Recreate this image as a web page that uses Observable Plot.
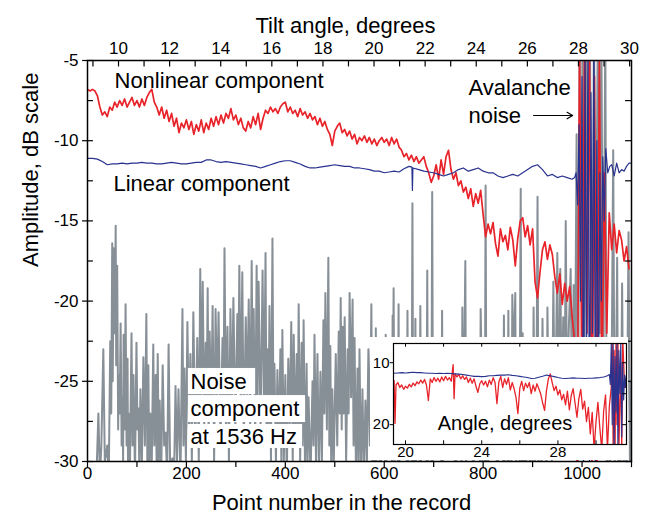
<!DOCTYPE html>
<html><head><meta charset="utf-8">
<script src="https://cdn.jsdelivr.net/npm/d3@7"></script>
<script src="https://cdn.jsdelivr.net/npm/@observablehq/plot@0.6"></script>
<style>
body{margin:0;background:#fff}
#wrap{position:relative;width:659px;height:523px;overflow:hidden}
#inset{position:absolute;left:370px;top:337px}
</style></head>
<body><div id="wrap"><div id="main"></div><div id="inset"></div></div>
<script>
// ---------- data ----------
const nonlinearStep = 5; // point spacing of nonlinearDb
const nonlinearDb = [
-6.8,-6.9,-6.8,-6.9,-7.2,-7.9,-8.4,-8.2,-8.5,-7.9,-8.1,-7.6,-7.9,-7.5,-7.8,-7.4,-7.9,-7.6,-7.3,-7.8,
-7.5,-7.9,-7.4,-7.8,-7.3,-7.0,-6.8,-7.6,-7.9,-8.4,-7.9,-8.6,-8.1,-8.8,-8.3,-9.1,-8.6,-9.5,-8.9,-9.2,
-8.7,-9.3,-8.8,-9.6,-9.0,-9.4,-8.7,-9.5,-8.9,-9.3,-8.6,-9.1,-8.5,-9.0,-8.4,-8.9,-8.3,-8.6,-8.0,-8.7,
-8.4,-9.0,-8.6,-9.2,-9.4,-8.8,-9.2,-8.5,-9.0,-8.3,-9.3,-8.6,-8.1,-8.3,-7.9,-8.2,-8.0,-8.3,-7.9,-7.7,
-7.6,-8.2,-7.9,-8.3,-8.1,-8.5,-8.0,-8.4,-8.2,-8.6,-8.3,-8.7,-8.5,-9.0,-8.6,-9.1,-8.8,-9.3,-9.6,-10.3,
-9.4,-9.1,-8.9,-9.5,-9.3,-9.7,-9.4,-9.9,-9.6,-10.2,-9.8,-10.0,-9.7,-10.1,-9.8,-10.2,-9.9,-10.3,-10.0,-9.8,
-10.1,-9.9,-10.3,-9.8,-10.2,-9.9,-10.4,-10.6,-11.0,-10.8,-11.2,-10.9,-11.3,-11.0,-11.4,-11.2,-11.0,-11.6,-12.0,-12.6,
-12.2,-11.5,-12.4,-11.2,-12.1,-11.0,-10.6,-11.8,-12.4,-12.0,-12.8,-12.5,-13.2,-12.9,-13.6,-13.0,-14.1,-13.3,-13.9,-13.1,
-14.6,-16.0,-15.2,-15.8,-15.1,-16.4,-17.2,-15.5,-16.3,-15.9,-16.8,-15.4,-16.2,-17.8,-16.1,-15.0,-14.8,-16.0,-15.3,-16.5,
-15.5,-18.8,-19.8,-18.2,-16.8,-16.3,-17.4,-16.5,-17.1,-18.5,-19.5,-18.3,-20.2,-18.9,-20.0,-19.1,-21.0,-22.5,-31,-4,
-28,-3,-22,-4,-31,-6,-31,-5,-26,-12,-22,-14.5,-16.8,-15.2,-17.0,-15.6,-16.2,-17.5,-16.6,-18.0
];
const linear = [
[0,-11.1],[10,-11.1],[20,-11.15],[30,-11.3],[40,-11.5],[50,-11.45],[60,-11.45],[70,-11.4],[80,-11.45],[90,-11.4],
[100,-11.4],[110,-11.35],[120,-11.4],[130,-11.4],[140,-11.45],[150,-11.45],[160,-11.4],[170,-11.35],[180,-11.4],[190,-11.45],
[200,-11.45],[210,-11.4],[220,-11.35],[230,-11.35],[240,-11.2],[250,-11.2],[260,-11.3],[270,-11.35],[280,-11.3],[290,-11.35],
[300,-11.4],[310,-11.45],[320,-11.5],[330,-11.55],[340,-11.6],[350,-11.7],[360,-11.6],[370,-11.5],[380,-11.4],[390,-11.3],
[400,-11.25],[410,-11.25],[420,-11.35],[430,-11.45],[440,-11.6],[450,-11.7],[460,-11.7],[470,-11.65],[480,-11.6],[490,-11.55],
[500,-11.5],[510,-11.55],[520,-11.6],[530,-11.6],[540,-11.7],[550,-11.7],[560,-11.75],[570,-11.8],[580,-11.9],[590,-11.9],
[600,-12.0],[610,-11.95],[620,-11.9],[630,-11.95],[640,-11.75],[650,-11.6],[656,-11.65],[657,-13.1],[658,-11.7],[670,-11.8],[680,-11.9],[690,-11.95],
[700,-12.0],[710,-12.1],[720,-12.2],[730,-12.1],[740,-12.0],[750,-11.8],[760,-11.7],[770,-11.9],[780,-11.8],[790,-11.7],
[800,-11.9],[810,-12.0],[820,-12.0],[830,-12.2],[840,-12.3],[850,-12.2],[860,-12.1],[870,-12.2],[880,-12.0],[890,-11.8],
[900,-11.6],[910,-11.5],[920,-11.8],[930,-12.2],[940,-12.1],[950,-12.3],[960,-12.2],[970,-12.3],[980,-12.4],[985,-12.3],
[988,-12.0],[991,-14],[994,-9],[997,-20],[1000,-6],[1003,-31],[1006,-4],[1009,-25],[1012,-3],[1015,-31],[1018,-7],[1021,-22],
[1024,-3],[1027,-31],[1030,-10],[1033,-28],[1036,-12],[1039,-20],[1042,-11],[1045,-15],[1048,-10.5],[1052,-12.0],[1056,-11.6],
[1060,-11.5],[1065,-12.2],[1070,-11.4],[1075,-12.0],[1080,-11.8],[1085,-11.9],[1090,-11.6],[1095,-11.4],[1100,-11.4]
];
const noise = [
[0,-32],[10,-32],[18,-31],[22,-27],[25,-31],[28,-29],[32,-23],[35,-30],[38,-29.5],[40,-29],[43,-31],[46,-22.5],[48,-27],[50,-16.4],[51,-25],[53,-16.7],[55,-22],[57,-15.3],[58,-24],[60,-17.8],
[62,-28],[63,-24.6],[65,-27],[67,-21.4],[69,-29],[71,-26],[72,-30],[73,-22.1],[75,-28],[77,-20.2],[79,-29],[81,-23.6],[82,-31],[83,-27],[86,-30],[89,-22],[91,-29],[93,-24.6],[96,-31],[99,-22.6],
[101,-28],[103,-26.7],[105,-31],[107,-25.5],[110,-30],[113,-23.5],[116,-29],[119,-20.8],[121,-30],[123,-24],[125,-31],[127,-27],[130,-30],[133,-22.7],[135,-29],[138,-24.6],[140,-31],[142,-23.3],[144,-30],[146,-26.2],
[149,-31],[152,-24],[155,-29],[158,-28.2],[161,-31],[164,-22.7],[167,-30],[172,-29.8],[175,-31],[178,-25.3],[181,-30],[184,-25.5],[188,-31],[192,-20.5],[194,-29],[196,-24.2],[199,-30],[202,-21.3],[205,-28],[208,-23.3],
[211,-30],[214,-20.7],[218,-29],[222,-22.3],[225,-30],[228,-18],[230,-27],[233,-18.8],[236,-28],[239,-22.6],[241,-26],[243,-19.2],[245,-29],[247,-21.9],[250,-27],[253,-20.3],[256,-30],[259,-20.5],[262,-26],[265,-20.7],
[269,-29],[273,-22.3],[275,-27],[277,-16.7],[280,-28],[283,-21.6],[286,-30],[289,-20.5],[292,-27],[295,-19.8],[299,-28],[303,-20.8],[305,-25],[307,-17.8],[310,-27],[313,-18.2],[316,-29],[320,-21],[323,-26],[326,-19.9],
[329,-28],[332,-17.5],[334,-25],[336,-20.5],[339,-29],[342,-17.8],[344,-26],[346,-18.8],[350,-28],[354,-18.1],[357,-27],[360,-17],[362,-29],[364,-23],[366,-28],[368,-20.3],[371,-30],[374,-16.1],[376,-27],[378,-23.9],
[381,-30],[384,-24.3],[387,-29],[390,-23],[392,-30],[394,-21.8],[397,-30],[400,-24.6],[403,-31],[406,-23.6],[409,-28],[412,-21.3],[415,-30],[417,-22.1],[420,-29],[423,-23.3],[425,-28],[427,-20.2],[430,-30],[433,-22.6],
[435,-29],[437,-21.2],[440,-31],[443,-23.9],[445,-30],[447,-26],[451,-31],[455,-25],[457,-29],[459,-22.1],[462,-30],[465,-23.3],[468,-31],[471,-24.4],[474,-30],[477,-21.2],[479,-27],[481,-19.5],[484,-28],[487,-17.3],
[489,-29],[491,-22.8],[493,-31],[495,-25.5],[498,-30],[502,-23.3],[505,-29],[508,-21.9],[510,-27],[512,-19.8],[514,-28],[516,-21.6],[518,-27],[520,-21],[523,-30],[526,-23],[528,-27],[530,-19.5],[533,-26],[536,-19.9],
[538,-29],[540,-22.3],[543,-31],[546,-24.2],[548,-30],[550,-23],[553,-31],[556,-25.5],[559,-31],[562,-26.2],[565,-30],[568,-23],[571,-29],[574,-20.2],[576,-31],[578,-27.2],[580,-33],
[582,-33],[583,-21.7],[585,-33],[590,-33],[592,-22.3],[594,-33],[601,-33],[603,-22.1],[605,-33],[615,-33],[617,-20.9],[618,-24],[619,-19.2],[621,-33],[627,-33],[629,-20.2],[631,-33],
[645,-33],[647,-20.6],[649,-33],[655,-33],[657,-13.9],[659,-33],[661,-33],[663,-21.1],[665,-33],[671,-33],[673,-20.3],[675,-33],[685,-33],[687,-18.1],[689,-33],[695,-33],[697,-13.2],[699,-33],
[715,-33],[717,-20.6],[719,-33],[740,-33],[745,-28.5],[747,-33],[756,-33],[758,-20.4],[760,-29],[764,-17.5],[766,-33],[778,-33],[780,-26.5],[782,-33],[793,-33],[795,-20.5],[797,-24],[799,-33],
[803,-33],[805,-12.8],[807,-33],[809,-24.5],[811,-33],[826,-33],[829,-26.8],[831,-33],[840,-33],[842,-20.9],[844,-33],[849,-33],[851,-20.6],[853,-33],[857,-33],[859,-19.6],[862,-24],[865,-19.5],[867,-33],
[870,-31],[873,-33],[876,-13],[878,-33],[880,-22],[882,-33],[886,-26.5],[888,-33],[893,-33],[895,-28],[897,-33],[900,-33],[902,-20.4],[905,-30],[908,-25],[910,-13.5],[912,-31],[915,-24],[918,-30],[920,-21.1],
[923,-29],[926,-23.5],[928,-31],[930,-20.4],[933,-28],[936,-24],[939,-30],[942,-18.8],[945,-28],[948,-22],[950,-17],[953,-29],[956,-18],[959,-27],[962,-21],[965,-26],[967,-15],[970,-28],[973,-22],[977,-18],
[980,-27],[983,-19],[986,-24],[989,-9.6],[992,-30],[995,-3],[998,-20],[1001,-3],[1004,-25],[1008,-3],[1012,-14],[1016,-3],[1020,-28],[1024,-3],[1028,-18],[1032,-3],[1036,-22],[1039,-3],[1043,-26],[1047,-3],
[1050,-31],[1054,-28],[1057,-31],[1060,-24],[1063,-10.6],[1066,-30],[1068,-27],[1071,-17.3],[1073,-31],[1076,-26],[1078,-31],[1081,-18.9],[1084,-31],[1087,-24],[1090,-31],[1094,-15.7],[1097,-31],[1100,-25]
];
// inset: angle (degrees) vs attenuation (dB)
const insetNonlinear = [
[19.4,12.9],[19.45,19.8],[19.5,13.6],[19.6,13.2],[19.7,14.0],[19.8,13.6],[19.9,14.3],[20.0,13.8],[20.1,14.1],[20.2,13.5],[20.3,13.9],[20.4,13.3],[20.5,13.7],[20.6,13.1],[20.7,13.4],[20.8,12.8],[20.9,13.3],[21.0,12.7],[21.1,13.6],[21.2,16.1],
[21.3,12.6],[21.4,13.2],[21.5,12.4],[21.6,13.0],[21.7,12.5],[21.8,13.1],[21.9,12.3],[22.0,12.9],[22.1,12.2],[22.2,12.8],[22.3,12.4],[22.4,13.0],[22.5,10.3],[22.55,15.8],[22.6,11.8],[22.7,12.3],[22.8,11.9],[22.9,12.6],[23.0,12.1],[23.1,12.7],
[23.2,12.3],[23.3,13.2],[23.4,12.5],[23.5,13.3],[23.6,12.6],[23.7,13.8],[23.8,14.8],[23.9,13.4],[24.0,12.9],[24.1,13.6],[24.2,13.0],[24.3,13.9],[24.4,12.8],[24.5,13.5],[24.6,12.4],[24.7,13.2],[24.8,16.6],[24.9,13.1],[25.0,12.2],[25.1,14.0],
[25.2,12.6],[25.3,13.5],[25.4,12.4],[25.5,14.4],[25.6,13.2],[25.7,14.2],[25.8,15.6],[25.9,18.2],[26.0,14.1],[26.1,13.0],[26.2,14.5],[26.3,13.3],[26.4,14.0],[26.5,13.2],[26.6,15.0],[26.7,13.6],[26.8,14.6],[26.9,13.4],[27.0,14.2],[27.1,15.1],
[27.2,16.5],[27.3,17.7],[27.4,14.5],[27.5,12.6],[27.6,11.8],[27.7,13.2],[27.8,14.5],[27.9,13.8],[28.0,15.2],[28.1,14.4],[28.2,16.0],[28.3,15.1],[28.4,16.8],[28.5,14.6],[28.6,17.6],[28.7,15.3],[28.8,14.2],[28.9,16.5],[29.0,18.8],[29.1,15.8],
[29.2,14.3],[29.3,17.5],[29.4,16.2],[29.5,19.5],[29.6,17.2],[29.7,21.5],[29.8,18.0],[29.9,24],[30.0,19.5],[30.1,16.4],[30.2,20.5],[30.3,24],[30.4,17.8],[30.5,15.2],[30.6,24],[30.7,17],[30.8,14],[30.85,6],[30.9,24],[30.95,8],
[31.0,24],[31.05,6],[31.1,20],[31.15,6],[31.2,24],[31.3,10],[31.35,24],[31.4,6],[31.5,14],[31.6,12]
];
const insetLinear = [
[19.4,11.7],[19.6,11.65],[19.8,11.6],[20.0,11.65],[20.2,11.6],[20.4,11.55],[20.6,11.6],[20.8,11.6],[21.0,11.65],[21.2,11.7],[21.4,11.7],[21.6,11.75],[21.8,11.7],[22.0,11.75],[22.2,11.7],[22.4,11.75],[22.6,11.8],[22.8,11.85],[23.0,11.9],[23.2,12.0],
[23.4,12.1],[23.6,12.2],[23.8,12.2],[24.0,12.25],[24.2,12.2],[24.4,12.1],[24.6,12.1],[24.8,12.05],[25.0,12.0],[25.2,12.0],[25.4,11.95],[25.6,12.05],[25.8,12.1],[26.0,12.2],[26.2,12.3],[26.4,12.4],[26.6,12.55],[26.8,12.5],[27.0,12.35],[27.2,12.2],
[27.4,12.0],[27.6,12.1],[27.8,12.25],[28.0,12.4],[28.2,12.5],[28.4,12.55],[28.6,12.5],[28.8,12.45],[29.0,12.5],[29.2,12.5],[29.4,12.55],[29.6,12.5],[29.8,12.5],[30.0,12.45],[30.2,12.4],[30.4,12.3],[30.6,12.1],[30.7,11.9],[30.75,13.5],[30.8,7],
[30.85,20],[30.9,6.5],[30.95,24],[31.0,9],[31.05,18],[31.1,6.5],[31.15,24],[31.2,8],[31.25,15],[31.3,6.5],[31.35,22],[31.4,10],[31.45,16],[31.5,12],[31.55,14],[31.6,12]
];
const pointTicks = [0,200,400,600,800,1000];
const pointMinor = [0,100,200,300,400,500,600,700,800,900,1000,1100];
const dbTicks = [-30,-25,-20,-15,-10,-5];
const dbMinor = [-30,-27.5,-25,-22.5,-20,-17.5,-15,-12.5,-10,-7.5,-5];
const angleTicks = [10,12,14,16,18,20,22,24,26,28,30];
const angleMinor = [9,10,11,12,13,14,15,16,17,18,19,20,21,22,23,24,25,26,27,28,29,30];
const insetAngleTicks = [20,24,28];
const insetAngleMinor = [20,22,24,26,28,30];
const insetDbTicks = [10,20];
const insetDbMinor = [10,15,20];

// calibration of the top (tilt angle) axis against point number
const pointAtTen = 62.7, pointsPerDegree = 51.67;
const angleToPoint = a => pointAtTen + (a - 10) * pointsPerDegree;

const RED = "#e8232a", BLUE = "#28328f", GRAY = "#878f97";
const FONT = "'Liberation Sans', Arial, Helvetica, sans-serif";

const nonlinear = nonlinearDb.map((v, i) => [i * nonlinearStep, v]);

const main = Plot.plot({
  width: 659, height: 523,
  marginLeft: 87, marginRight: 28, marginTop: 60, marginBottom: 62,
  x: {domain: [0, 1100], axis: null},
  y: {domain: [-30, -5], axis: null},
  style: {fontFamily: FONT, fontSize: "17px", background: "white", color: "black"},
  marks: [
    Plot.line(noise, {x: d => d[0], y: d => d[1], stroke: GRAY, strokeWidth: 2, clip: true}),
    Plot.line(nonlinear, {x: d => d[0], y: d => d[1], stroke: RED, strokeWidth: 1.7, clip: true}),
    Plot.line(linear, {x: d => d[0], y: d => d[1], stroke: BLUE, strokeWidth: 1.2, clip: true}),
    Plot.rect([0], {x1: 204, x2: 340, y1: -24.2, y2: -25.83, fill: "white"}),
    Plot.rect([0], {x1: 204, x2: 441, y1: -25.89, y2: -27.57, fill: "white"}),
    Plot.rect([0], {x1: 204, x2: 435, y1: -27.69, y2: -29.19, fill: "white"}),
    Plot.frame({stroke: "black", strokeWidth: 1.5}),
    // bottom axis
    Plot.ruleX(pointMinor, {y1: -30, y2: -30.38, stroke: "black", strokeWidth: 1.2}),
    Plot.axisX(pointTicks, {anchor: "bottom", tickSize: 0, tickPadding: 5, label: null, fontSize: 17, tickFormat: d => String(d)}),
    // left axis
    Plot.ruleY(dbTicks, {x1: -10, x2: 0, stroke: "black", strokeWidth: 1.2}),
    Plot.ruleY(dbMinor, {x1: 0, x2: 12, stroke: "black", strokeWidth: 1.2}),
    Plot.ruleY(dbMinor, {x1: 1088, x2: 1100, stroke: "black", strokeWidth: 1.2}),
    Plot.axisY(dbTicks, {anchor: "left", tickSize: 0, tickPadding: 9, label: null, fontSize: 17, tickFormat: d => String(d)}),
    // top axis (tilt angle)
    Plot.ruleX(angleMinor, {x: angleToPoint, y1: -5, y2: -5.4, stroke: "black", strokeWidth: 1.2}),
    Plot.text(angleTicks, {x: angleToPoint, text: d => String(d), frameAnchor: "top", lineAnchor: "bottom", dy: -7, fontSize: 17}),
    // axis titles
    Plot.text(["Tilt angle, degrees"], {frameAnchor: "top", dx: -14, dy: -43, fontSize: 22}),
    Plot.text(["Point number in the record"], {frameAnchor: "bottom", dx: -18, dy: 48, fontSize: 22}),
    Plot.text(["Amplitude, dB scale"], {frameAnchor: "left", rotate: -90, dx: -57, dy: 6, fontSize: 22}),
    // annotations
    Plot.text(["Nonlinear component"], {frameAnchor: "top-left", textAnchor: "start", lineAnchor: "middle", dx: 27, dy: 20, fontSize: 22}),
    Plot.text(["Linear component"], {frameAnchor: "top-left", textAnchor: "start", lineAnchor: "middle", dx: 26, dy: 123, fontSize: 22}),
    Plot.text(["Avalanche"], {frameAnchor: "top-left", textAnchor: "start", lineAnchor: "middle", dx: 381, dy: 27, fontSize: 22}),
    Plot.text(["noise"], {frameAnchor: "top-left", textAnchor: "start", lineAnchor: "middle", dx: 381, dy: 55, fontSize: 22}),
    Plot.arrow([0], {x1: 902, x2: 981, y1: -8.43, y2: -8.43, stroke: "black", strokeWidth: 1.2, headLength: 8}),
    Plot.text(["Noise"], {frameAnchor: "top-left", textAnchor: "start", lineAnchor: "middle", dx: 103, dy: 321, fontSize: 22}),
    Plot.text(["component"], {frameAnchor: "top-left", textAnchor: "start", lineAnchor: "middle", dx: 103, dy: 348, fontSize: 22}),
    Plot.text(["at 1536 Hz"], {frameAnchor: "top-left", textAnchor: "start", lineAnchor: "middle", dx: 103, dy: 376, fontSize: 22})
  ]
});
document.getElementById("main").append(main);

const inset = Plot.plot({
  width: 258, height: 123,
  marginLeft: 23, marginTop: 6, marginRight: 2, marginBottom: 16,
  x: {domain: [19.37, 31.6], axis: null},
  y: {domain: [6.9, 23.2], reverse: true, axis: null},
  style: {fontFamily: FONT, fontSize: "15px", background: "white", color: "black"},
  marks: [
    Plot.line(insetNonlinear, {x: d => d[0], y: d => d[1], stroke: RED, strokeWidth: 1.3, clip: true}),
    Plot.line(insetLinear, {x: d => d[0], y: d => d[1], stroke: BLUE, strokeWidth: 1.1, clip: true}),
    Plot.frame({stroke: "black", strokeWidth: 1.2}),
    Plot.ruleX(insetAngleMinor, {y1: 23.2, y2: 22.6, stroke: "black"}),
    Plot.ruleX(insetAngleMinor, {y1: 6.9, y2: 7.5, stroke: "black"}),
    Plot.ruleY(insetDbMinor, {x1: 31.6, x2: 31.4, stroke: "black"}),
    Plot.ruleY(insetDbTicks, {x1: 19.2, x2: 19.37, stroke: "black"}),
    Plot.axisX(insetAngleTicks, {anchor: "bottom", tickSize: 0, tickPadding: 2, label: null, fontSize: 15}),
    Plot.axisY(insetDbTicks, {anchor: "left", tickSize: 0, tickPadding: 4, label: null, fontSize: 15}),
    Plot.text(["Angle, degrees"], {frameAnchor: "bottom", dx: -5, dy: -15, fontSize: 20})
  ]
});
document.getElementById("inset").append(inset);
</script>
</body></html>
